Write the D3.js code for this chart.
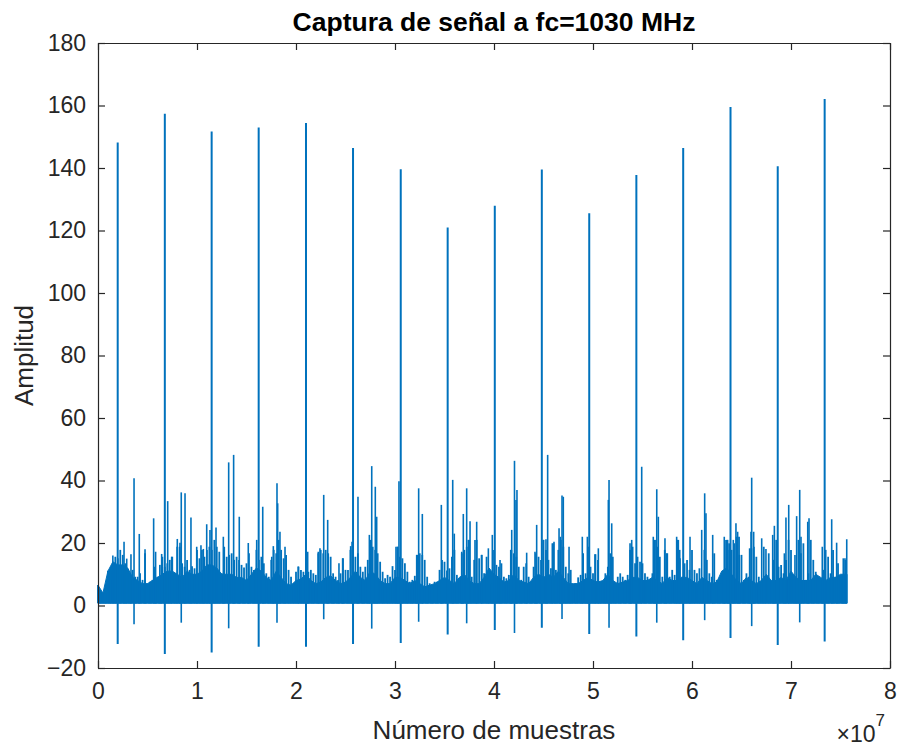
<!DOCTYPE html>
<html>
<head>
<meta charset="utf-8">
<script src="https://cdn.jsdelivr.net/npm/d3@7"></script>
<style>
  body { margin: 0; background: white; }
  text { font-family: "Liberation Sans", Arial, Helvetica, sans-serif; }
</style>
</head>
<body>
<div id="chart"></div>
<script>
// x values are in units of 1e7 samples (as the axis shows, x10^7)

// main pulses: position, peak and negative swing
const pulseX    = [0.199, 0.675, 1.148, 1.623, 2.101, 2.576, 3.058, 3.532, 4.008, 4.483, 4.962, 5.438, 5.911, 6.389, 6.866, 7.340];
const pulsePeak = [148.2, 157.4, 151.7, 153.0, 154.4, 146.4, 139.6, 121.0, 127.9, 139.5, 125.5, 137.8, 146.4, 159.5, 140.6, 162.1];
const pulseLow  = [-12.3, -15.5, -15.0, -13.2, -13.2, -12.3, -12.0, -9.3, -7.8, -7.1, -9.1, -9.9, -11.1, -10.4, -12.6, -11.5];

// secondary pulses following each main one
const echoX    = [0.364, 0.841, 1.320, 1.808, 2.280, 2.765, 3.239, 3.724, 4.207, 4.687, 5.162, 5.644, 6.128, 6.603, 7.088];
const echoPeak = [40.7, 36.2, 45.8, 39.1, 35.4, 44.6, 37.5, 37.5, 46.3, 35.2, 40.2, 37.2, 35.9, 40.9, 37.0];
const echoLow  = [-6.0, -5.5, -7.3, -5.5, -4.4, -7.4, -5.2, -5.7, -8.8, -4.3, -7.1, -5.5, -4.7, -6.6, -5.4];

// other bursts standing out of the noise floor
const burstX = [0.15, 0.263, 0.29, 0.333, 0.417, 0.475, 0.562, 0.582, 0.643, 0.704, 0.744, 0.801, 0.828, 0.879, 0.939,
  0.997, 1.040, 1.064, 1.098, 1.131, 1.192, 1.266, 1.370, 1.427, 1.518, 1.603, 1.664, 1.755, 1.771, 1.815, 1.838, 1.889,
  2.023, 2.118, 2.225, 2.242, 2.320, 2.434, 2.471, 2.552, 2.566, 2.626, 2.741, 2.801, 2.815, 3.010, 3.027, 3.040,
  3.219, 3.276, 3.468, 3.583, 3.599, 3.674, 3.690, 3.741, 3.758, 3.808, 3.825, 3.876, 3.943,
  3.983, 4.061, 4.169, 4.179, 4.222, 4.232, 4.330, 4.414, 4.431, 4.498, 4.525, 4.542, 4.589, 4.606, 4.657, 4.670, 4.700,
  4.758, 4.892, 4.943, 5.020, 5.054, 5.155, 5.189, 5.374, 5.391, 5.492, 5.609, 5.626, 5.660, 5.727, 5.744, 5.845, 5.862,
  5.879, 5.980, 6.098, 6.141, 6.209, 6.326, 6.343, 6.360, 6.377, 6.417, 6.444, 6.461, 6.478, 6.582, 6.596, 6.623, 6.704,
  6.747, 6.815, 6.832, 6.933, 6.949, 6.977, 7.040, 7.057, 7.101, 7.169, 7.182, 7.316, 7.411, 7.461, 7.528, 7.545, 7.563];
const burstPeak = [16, 20.4, 15, 16.4, 22.9, 18, 27.9, 17.2, 16.5, 33.4, 15.6, 21.3, 20.1, 35.9, 28.2,
  18.8, 19.3, 18.1, 26, 24.2, 25, 22, 48.2, 28.4, 20, 21, 31.6, 15.6, 19, 32.7, 23.6, 18.8,
  12.5, 17.2, 17.2, 18.3, 27.4, 13.5, 15.1, 19, 20.4, 34.8, 22.6, 38, 28.4, 18.8, 18.8, 39.8,
  16.2, 29.3, 32.2, 40.2, 23, 17.2, 29.3, 21, 27, 21, 26.8, 16.2, 18.3,
  22.6, 14.6, 17.8, 24.2, 33.8, 37, 16.9, 17.2, 25.8, 21, 21.2, 48.2, 19.9, 20.4, 24.7, 22, 34.8,
  18.8, 22, 22, 16.4, 18.3, 33.8, 26.3, 19.9, 21, 44.4, 22, 21, 28.4, 21.5, 16.7, 22, 21,
  15.1, 22, 24.2, 29.5, 22.6, 22, 21, 21, 17.8, 21, 26.3, 23.6, 16.2, 18.3, 23.6, 23.6, 21.5,
  18.1, 22.6, 25.5, 16.7, 28.2, 32.2, 16.2, 28.6, 22, 26.8, 27.9, 18.8, 27.6, 20.1, 15.1, 15.1, 21.2];

// noise "grass": local maximum read every 0.025 (x1e7), starting at 0
const grassStep = 0.025;
const grassTop = [
  6.6, 4.0, 4.0, 4.0, 11.1, 11.1, 8.2, 15.6, 15.1, 17.8,
  16.2, 13.5, 11.4, 9.8, 11.4, 9.2, 9.2, 10.3, 8.2, 16.7,
  7.1, 7.6, 8.2, 12.4, 9.2, 13.0, 15.6, 12.4, 13.5, 14.6,
  15.6, 10.3, 18.8, 18.8, 13.5, 12.4, 14.6, 11.4, 12.6, 11.9,
  17.8, 15.1, 17.8, 15.6, 17.8, 18.8, 17.8, 21.0, 18.8, 17.2,
  10.3, 18.8, 15.6, 16.2, 16.7, 14.6, 15.6, 14.6, 13.0, 12.2,
  13.5, 16.7, 12.4, 11.4, 17.8, 14.6, 15.6, 13.5, 10.3, 9.2,
  14.6, 17.8, 16.7, 21.0, 17.8, 15.1, 16.2, 11.4, 9.2, 7.1,
  10.8, 12.4, 11.4, 10.8, 15.6, 10.8, 11.4, 10.3, 9.8, 16.7,
  17.8, 16.7, 17.8, 16.7, 15.6, 10.3, 9.2, 8.2, 10.3, 15.1,
  11.4, 11.4, 17.8, 18.8, 15.6, 16.7, 12.4, 10.8, 12.4, 14.6,
  21.0, 18.8, 17.8, 16.7, 14.0, 10.8, 8.7, 9.8, 9.2, 12.6,
  11.4, 18.8, 15.6, 15.1, 13.5, 10.8, 7.6, 8.2, 9.5, 16.2,
  16.7, 16.2, 14.6, 9.2, 7.1, 6.6, 7.6, 7.6, 11.4, 14.6,
  14.0, 11.2, 11.9, 15.6, 17.8, 9.8, 8.7, 16.7, 17.8, 18.8,
  21.0, 9.2, 14.6, 21.0, 15.1, 16.2, 10.3, 15.6, 10.3, 7.1,
  17.8, 13.0, 12.4, 13.5, 9.2, 8.7, 9.8, 17.8, 16.7, 15.6,
  12.4, 8.2, 12.4, 13.5, 9.2, 7.6, 12.4, 16.7, 15.6, 14.6,
  21.0, 17.8, 14.6, 11.9, 19.9, 11.4, 17.8, 21.0, 18.8, 12.4,
  10.3, 11.4, 6.6, 7.1, 9.0, 9.8, 16.7, 10.3, 18.8, 12.4,
  10.3, 16.4, 14.6, 7.1, 7.1, 10.3, 12.4, 16.7, 15.6, 7.1,
  9.2, 10.3, 9.2, 8.2, 9.8, 17.8, 18.8, 13.5, 15.6, 14.0,
  13.5, 10.3, 9.2, 8.2, 10.3, 21.0, 18.8, 15.6, 9.2, 17.8,
  16.7, 9.2, 11.4, 9.8, 21.0, 17.8, 9.2, 13.5, 14.6, 11.4,
  17.8, 11.4, 10.3, 11.9, 8.2, 17.8, 14.6, 10.3, 9.2, 16.7,
  8.2, 7.1, 9.8, 10.3, 21.0, 19.9, 17.8, 19.9, 22.0, 22.0,
  16.2, 8.2, 10.3, 9.2, 18.3, 18.8, 15.6, 9.2, 7.1, 18.8,
  8.2, 16.7, 7.6, 14.6, 21.0, 12.4, 13.0, 10.3, 14.6, 21.0,
  17.8, 9.8, 9.2, 21.0, 16.7, 19.9, 8.2, 10.3, 21.0, 14.6,
  10.8, 9.2, 8.7, 11.4, 17.8, 15.6, 10.3, 17.8, 9.2, 13.5,
  8.2, 9.2, 14.6];

// dense noise band: upper edge read every 0.05 (x1e7), lower edge
const bandX = [0.00, 0.05, 0.10, 0.15, 0.20, 0.25, 0.30, 0.35, 0.40, 0.45, 0.50, 0.55, 0.60, 0.65, 0.70, 0.75, 0.80, 0.85, 0.90, 0.95,
  1.00, 1.05, 1.10, 1.15, 1.20, 1.25, 1.30, 1.35, 1.40, 1.45, 1.50, 1.55, 1.60, 1.65, 1.70, 1.75, 1.80, 1.85, 1.90, 1.95,
  2.00, 2.05, 2.10, 2.15, 2.20, 2.25, 2.30, 2.35, 2.40, 2.45, 2.50, 2.55, 2.60, 2.65, 2.70, 2.75, 2.80, 2.85, 2.90, 2.95,
  3.00, 3.05, 3.10, 3.15, 3.20, 3.25, 3.30, 3.35, 3.40, 3.45, 3.50, 3.55, 3.60, 3.65, 3.70, 3.75, 3.80, 3.85, 3.90, 3.95,
  4.00, 4.05, 4.10, 4.15, 4.20, 4.25, 4.30, 4.35, 4.40, 4.45, 4.50, 4.55, 4.60, 4.65, 4.70, 4.75, 4.80, 4.85, 4.90, 4.95,
  5.00, 5.05, 5.10, 5.15, 5.20, 5.25, 5.30, 5.35, 5.40, 5.45, 5.50, 5.55, 5.60, 5.65, 5.70, 5.75, 5.80, 5.85, 5.90, 5.95,
  6.00, 6.05, 6.10, 6.15, 6.20, 6.25, 6.30, 6.35, 6.40, 6.45, 6.50, 6.55, 6.60, 6.65, 6.70, 6.75, 6.80, 6.85, 6.90, 6.95,
  7.00, 7.05, 7.10, 7.15, 7.20, 7.25, 7.30, 7.35, 7.40, 7.45, 7.50, 7.566];
const bandTop = [6.5, 4.0, 11, 14, 13, 13, 12, 9, 8, 7, 7, 8, 9, 10, 11, 11, 10, 9, 11, 10,
  10, 11, 13, 13, 12, 10, 10, 10, 9, 9, 8, 10, 12, 11, 9, 8, 11, 9, 7, 6.5,
  8, 8.5, 10, 8, 7, 7.5, 9, 9.5, 8, 7, 7.5, 9, 11, 9, 8, 11, 10, 8, 7, 7,
  9, 9, 8, 7, 8, 7, 6, 6.5, 7, 8, 9, 8, 7, 9, 10, 8, 7, 7, 9, 12,
  10, 9, 7.5, 8, 10, 8, 7.5, 7, 9, 10, 9, 10, 9, 11, 9, 7, 7, 7, 8, 9,
  8, 7.5, 8, 10, 8, 7, 7.5, 8, 9, 9, 8, 8, 9, 8, 7, 9, 8, 8, 9, 9,
  8, 7, 9, 8, 7, 7.5, 11, 12, 10, 8, 7, 9, 8, 7, 8, 10, 8, 8, 9, 8,
  11, 9, 8, 8, 8, 10, 9, 8, 9, 9, 10, 10];
const bandFloor = 0.7;

const xTicks = [0, 1, 2, 3, 4, 5, 6, 7, 8];
const yTicks = [-20, 0, 20, 40, 60, 80, 100, 120, 140, 160, 180];

let width = 898, height = 749;
let margin = { top: 43, bottom: 81, left: 98, right: 8 };
const blue = '#0072BD', axisColor = '#262626';

let svg = d3.select('#chart')
  .append('svg')
  .attr('width', width)
  .attr('height', height)
  .style('background', 'white');

let xScale = d3.scaleLinear()
  .domain([0, 8e7])
  .range([margin.left, width - margin.right]);

let yScale = d3.scaleLinear()
  .domain([-20, 180])
  .range([height - margin.bottom, margin.top]);

const plot = svg.append('g');

// noise band (solid core)
const band = bandX.map((d, i) => ({ x: d * 1e7, top: bandTop[i] }));
plot.append('path')
  .datum(band)
  .attr('d', d3.area()
    .x(d => xScale(d.x))
    .y0(yScale(bandFloor))
    .y1(d => yScale(d.top)))
  .attr('fill', blue)
  .attr('stroke', blue)
  .attr('stroke-width', 1);

// grass on top of the band
const grass = grassTop.map((d, i) => ({ x: i * grassStep * 1e7, top: d }));
plot.selectAll('.grass')
  .data(grass)
  .enter()
  .append('line')
  .attr('class', 'grass')
  .attr('x1', d => xScale(d.x))
  .attr('x2', d => xScale(d.x))
  .attr('y1', yScale(bandFloor))
  .attr('y2', d => yScale(d.top))
  .attr('stroke', blue)
  .attr('stroke-width', 1.8);

// bursts
const bursts = burstX.map((d, i) => ({ x: d * 1e7, top: burstPeak[i] }));
plot.selectAll('.burst')
  .data(bursts)
  .enter()
  .append('line')
  .attr('class', 'burst')
  .attr('x1', d => xScale(d.x))
  .attr('x2', d => xScale(d.x))
  .attr('y1', yScale(bandFloor))
  .attr('y2', d => yScale(d.top))
  .attr('stroke', blue)
  .attr('stroke-width', 1.6);

// echoes
const echoes = echoX.map((d, i) => ({ x: d * 1e7, top: echoPeak[i], low: echoLow[i] }));
plot.selectAll('.echo')
  .data(echoes)
  .enter()
  .append('line')
  .attr('class', 'echo')
  .attr('x1', d => xScale(d.x))
  .attr('x2', d => xScale(d.x))
  .attr('y1', d => yScale(d.low))
  .attr('y2', d => yScale(d.top))
  .attr('stroke', blue)
  .attr('stroke-width', 1.6);

// main pulses
const pulses = pulseX.map((d, i) => ({ x: d * 1e7, top: pulsePeak[i], low: pulseLow[i] }));
plot.selectAll('.pulse')
  .data(pulses)
  .enter()
  .append('line')
  .attr('class', 'pulse')
  .attr('x1', d => xScale(d.x))
  .attr('x2', d => xScale(d.x))
  .attr('y1', d => yScale(d.low))
  .attr('y2', d => yScale(d.top))
  .attr('stroke', blue)
  .attr('stroke-width', 2);

// axes (ticks inside, box all round like matlab)
function styleAxis(g, showLabels) {
  g.select('.domain').attr('stroke', axisColor).attr('stroke-width', 1.2);
  g.selectAll('.tick line').attr('stroke', axisColor).attr('stroke-width', 1.2);
  g.selectAll('.tick text')
    .attr('fill', axisColor)
    .style('font-size', '23px')
    .style('display', showLabels ? null : 'none');
}

let xaxis = svg.append('g')
  .attr('transform', `translate(0,${height - margin.bottom})`)
  .call(d3.axisBottom(xScale).tickValues(xTicks.map(d => d * 1e7)).tickFormat(d => d / 1e7)
    .tickSizeInner(-7).tickSizeOuter(0).tickPadding(15))
  .call(g => styleAxis(g, true));

let xaxisTop = svg.append('g')
  .attr('transform', `translate(0,${margin.top})`)
  .call(d3.axisTop(xScale).tickValues(xTicks.map(d => d * 1e7)).tickSizeInner(-7).tickSizeOuter(0))
  .call(g => styleAxis(g, false));

let yaxis = svg.append('g')
  .attr('transform', `translate(${margin.left},0)`)
  .call(d3.axisLeft(yScale).tickValues(yTicks).tickSizeInner(-7).tickSizeOuter(0).tickPadding(12))
  .call(g => styleAxis(g, true));

let yaxisRight = svg.append('g')
  .attr('transform', `translate(${width - margin.right},0)`)
  .call(d3.axisRight(yScale).tickValues(yTicks).tickSizeInner(-7).tickSizeOuter(0))
  .call(g => styleAxis(g, false));

// exponent
const expo = svg.append('text')
  .attr('x', 885)
  .attr('y', 742)
  .attr('text-anchor', 'end')
  .attr('fill', axisColor)
  .style('font-size', '23px');
expo.append('tspan').text('×10');
expo.append('tspan').text('7').attr('dy', -16).style('font-size', '17px');

// title
svg.append('text')
  .text('Captura de señal a fc=1030 MHz')
  .attr('x', (margin.left + width - margin.right) / 2)
  .attr('y', 31)
  .attr('text-anchor', 'middle')
  .style('font-size', '26.5px')
  .style('font-weight', 'bold')
  .attr('fill', '#000');

// x-axis label
svg.append('text')
  .text('Número de muestras')
  .attr('x', (margin.left + width - margin.right) / 2)
  .attr('y', 739)
  .attr('text-anchor', 'middle')
  .style('font-size', '26px')
  .attr('fill', axisColor);

// y-axis label
svg.append('text')
  .text('Amplitud')
  .attr('transform', `translate(33,${(margin.top + height - margin.bottom) / 2}) rotate(-90)`)
  .attr('text-anchor', 'middle')
  .style('font-size', '26px')
  .attr('fill', axisColor);
</script>
</body>
</html>
